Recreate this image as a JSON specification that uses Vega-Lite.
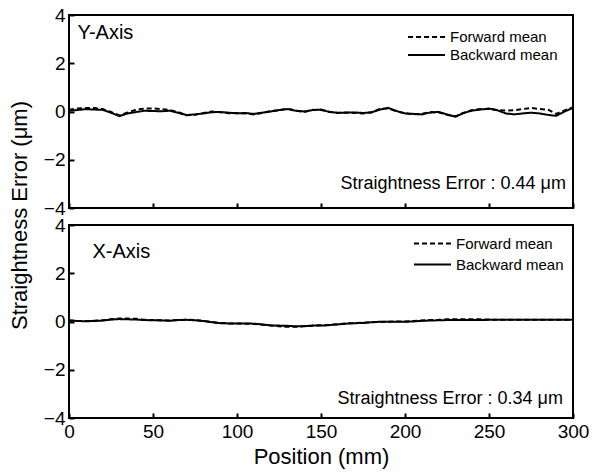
{
  "$schema": "https://vega.github.io/schema/vega-lite/v6.json",
  "background": "white",
  "padding": {"left": 7, "top": 5, "right": 5, "bottom": 5},
  "bounds": "flush",
  "spacing": 17,
  "config": {
    "font": "Liberation Sans",
    "view": {"stroke": "black", "strokeWidth": 2},
    "axis": {
      "grid": false,
      "domain": false,
      "tickColor": "black",
      "tickWidth": 2,
      "tickSize": -5,
      "labelPadding": 9,
      "labelFlush": false,
      "labelColor": "black",
      "labelFontSize": 19,
      "titleColor": "black",
      "titleFontWeight": "normal",
      "titleFontSize": 22
    },
    "legend": {
      "orient": "none",
      "padding": 0,
      "symbolType": "stroke",
      "symbolSize": 1369,
      "symbolStrokeWidth": 2,
      "symbolStrokeColor": "black",
      "labelFontSize": 15,
      "labelColor": "black",
      "labelOffset": 4,
      "rowPadding": 0
    }
  },
  "datasets": {
    "yaxis": [
      {"d":"Backward mean","p":0,"v":0.03},{"d":"Backward mean","p":5,"v":0.06},{"d":"Backward mean","p":10,"v":0.10},{"d":"Backward mean","p":15,"v":0.08},{"d":"Backward mean","p":20,"v":0.07},{"d":"Backward mean","p":25,"v":-0.05},{"d":"Backward mean","p":30,"v":-0.19},{"d":"Backward mean","p":35,"v":-0.08},{"d":"Backward mean","p":40,"v":-0.02},{"d":"Backward mean","p":45,"v":0.03},{"d":"Backward mean","p":50,"v":0.02},{"d":"Backward mean","p":55,"v":0.01},{"d":"Backward mean","p":60,"v":0.03},{"d":"Backward mean","p":65,"v":-0.05},{"d":"Backward mean","p":70,"v":-0.15},{"d":"Backward mean","p":75,"v":-0.12},{"d":"Backward mean","p":80,"v":-0.08},{"d":"Backward mean","p":85,"v":-0.03},{"d":"Backward mean","p":90,"v":-0.02},{"d":"Backward mean","p":95,"v":-0.05},{"d":"Backward mean","p":100,"v":-0.08},{"d":"Backward mean","p":105,"v":-0.06},{"d":"Backward mean","p":110,"v":-0.10},{"d":"Backward mean","p":115,"v":-0.05},{"d":"Backward mean","p":120,"v":0.00},{"d":"Backward mean","p":125,"v":0.06},{"d":"Backward mean","p":130,"v":0.10},{"d":"Backward mean","p":135,"v":0.03},{"d":"Backward mean","p":140,"v":0.00},{"d":"Backward mean","p":145,"v":0.06},{"d":"Backward mean","p":150,"v":0.08},{"d":"Backward mean","p":155,"v":-0.02},{"d":"Backward mean","p":160,"v":-0.05},{"d":"Backward mean","p":165,"v":-0.05},{"d":"Backward mean","p":170,"v":-0.04},{"d":"Backward mean","p":175,"v":-0.06},{"d":"Backward mean","p":180,"v":-0.04},{"d":"Backward mean","p":185,"v":0.08},{"d":"Backward mean","p":190,"v":0.15},{"d":"Backward mean","p":195,"v":0.02},{"d":"Backward mean","p":200,"v":-0.08},{"d":"Backward mean","p":205,"v":-0.10},{"d":"Backward mean","p":210,"v":-0.12},{"d":"Backward mean","p":215,"v":-0.04},{"d":"Backward mean","p":220,"v":-0.02},{"d":"Backward mean","p":225,"v":-0.12},{"d":"Backward mean","p":230,"v":-0.22},{"d":"Backward mean","p":235,"v":-0.06},{"d":"Backward mean","p":240,"v":0.04},{"d":"Backward mean","p":245,"v":0.08},{"d":"Backward mean","p":250,"v":0.12},{"d":"Backward mean","p":255,"v":0.05},{"d":"Backward mean","p":260,"v":-0.08},{"d":"Backward mean","p":265,"v":-0.12},{"d":"Backward mean","p":270,"v":-0.08},{"d":"Backward mean","p":275,"v":-0.05},{"d":"Backward mean","p":280,"v":-0.08},{"d":"Backward mean","p":285,"v":-0.14},{"d":"Backward mean","p":290,"v":-0.18},{"d":"Backward mean","p":295,"v":0.0},{"d":"Backward mean","p":300,"v":0.15},
      {"d":"Forward mean","p":0,"v":0.07},{"d":"Forward mean","p":5,"v":0.12},{"d":"Forward mean","p":10,"v":0.14},{"d":"Forward mean","p":15,"v":0.14},{"d":"Forward mean","p":20,"v":0.10},{"d":"Forward mean","p":25,"v":-0.02},{"d":"Forward mean","p":30,"v":-0.16},{"d":"Forward mean","p":35,"v":-0.04},{"d":"Forward mean","p":40,"v":0.08},{"d":"Forward mean","p":45,"v":0.12},{"d":"Forward mean","p":50,"v":0.13},{"d":"Forward mean","p":55,"v":0.10},{"d":"Forward mean","p":60,"v":0.06},{"d":"Forward mean","p":65,"v":-0.03},{"d":"Forward mean","p":70,"v":-0.16},{"d":"Forward mean","p":75,"v":-0.14},{"d":"Forward mean","p":80,"v":-0.06},{"d":"Forward mean","p":85,"v":0.0},{"d":"Forward mean","p":90,"v":-0.03},{"d":"Forward mean","p":95,"v":-0.07},{"d":"Forward mean","p":100,"v":-0.06},{"d":"Forward mean","p":105,"v":-0.08},{"d":"Forward mean","p":110,"v":-0.12},{"d":"Forward mean","p":115,"v":-0.06},{"d":"Forward mean","p":120,"v":0.02},{"d":"Forward mean","p":125,"v":0.05},{"d":"Forward mean","p":130,"v":0.12},{"d":"Forward mean","p":135,"v":0.04},{"d":"Forward mean","p":140,"v":-0.02},{"d":"Forward mean","p":145,"v":0.07},{"d":"Forward mean","p":150,"v":0.06},{"d":"Forward mean","p":155,"v":-0.01},{"d":"Forward mean","p":160,"v":-0.06},{"d":"Forward mean","p":165,"v":-0.04},{"d":"Forward mean","p":170,"v":-0.06},{"d":"Forward mean","p":175,"v":-0.08},{"d":"Forward mean","p":180,"v":-0.03},{"d":"Forward mean","p":185,"v":0.10},{"d":"Forward mean","p":190,"v":0.13},{"d":"Forward mean","p":195,"v":0.0},{"d":"Forward mean","p":200,"v":-0.07},{"d":"Forward mean","p":205,"v":-0.12},{"d":"Forward mean","p":210,"v":-0.10},{"d":"Forward mean","p":215,"v":-0.03},{"d":"Forward mean","p":220,"v":-0.03},{"d":"Forward mean","p":225,"v":-0.14},{"d":"Forward mean","p":230,"v":-0.20},{"d":"Forward mean","p":235,"v":-0.05},{"d":"Forward mean","p":240,"v":0.06},{"d":"Forward mean","p":245,"v":0.10},{"d":"Forward mean","p":250,"v":0.11},{"d":"Forward mean","p":255,"v":0.06},{"d":"Forward mean","p":260,"v":0.04},{"d":"Forward mean","p":265,"v":0.05},{"d":"Forward mean","p":270,"v":0.10},{"d":"Forward mean","p":275,"v":0.15},{"d":"Forward mean","p":280,"v":0.10},{"d":"Forward mean","p":285,"v":0.08},{"d":"Forward mean","p":290,"v":-0.10},{"d":"Forward mean","p":295,"v":0.04},{"d":"Forward mean","p":300,"v":0.18}
    ],
    "xaxis": [
      {"d":"Backward mean","p":0,"v":0.05},{"d":"Backward mean","p":5,"v":0.02},{"d":"Backward mean","p":10,"v":0.01},{"d":"Backward mean","p":15,"v":0.02},{"d":"Backward mean","p":20,"v":0.04},{"d":"Backward mean","p":25,"v":0.08},{"d":"Backward mean","p":30,"v":0.10},{"d":"Backward mean","p":35,"v":0.09},{"d":"Backward mean","p":40,"v":0.08},{"d":"Backward mean","p":45,"v":0.06},{"d":"Backward mean","p":50,"v":0.05},{"d":"Backward mean","p":55,"v":0.05},{"d":"Backward mean","p":60,"v":0.03},{"d":"Backward mean","p":65,"v":0.06},{"d":"Backward mean","p":70,"v":0.07},{"d":"Backward mean","p":75,"v":0.05},{"d":"Backward mean","p":80,"v":0.02},{"d":"Backward mean","p":85,"v":-0.03},{"d":"Backward mean","p":90,"v":-0.07},{"d":"Backward mean","p":95,"v":-0.08},{"d":"Backward mean","p":100,"v":-0.08},{"d":"Backward mean","p":105,"v":-0.08},{"d":"Backward mean","p":110,"v":-0.09},{"d":"Backward mean","p":115,"v":-0.12},{"d":"Backward mean","p":120,"v":-0.16},{"d":"Backward mean","p":125,"v":-0.17},{"d":"Backward mean","p":130,"v":-0.18},{"d":"Backward mean","p":135,"v":-0.20},{"d":"Backward mean","p":140,"v":-0.19},{"d":"Backward mean","p":145,"v":-0.17},{"d":"Backward mean","p":150,"v":-0.17},{"d":"Backward mean","p":155,"v":-0.15},{"d":"Backward mean","p":160,"v":-0.12},{"d":"Backward mean","p":165,"v":-0.09},{"d":"Backward mean","p":170,"v":-0.07},{"d":"Backward mean","p":175,"v":-0.06},{"d":"Backward mean","p":180,"v":-0.03},{"d":"Backward mean","p":185,"v":-0.01},{"d":"Backward mean","p":190,"v":-0.01},{"d":"Backward mean","p":195,"v":-0.01},{"d":"Backward mean","p":200,"v":-0.01},{"d":"Backward mean","p":205,"v":0.0},{"d":"Backward mean","p":210,"v":0.03},{"d":"Backward mean","p":215,"v":0.04},{"d":"Backward mean","p":220,"v":0.05},{"d":"Backward mean","p":225,"v":0.06},{"d":"Backward mean","p":230,"v":0.06},{"d":"Backward mean","p":235,"v":0.06},{"d":"Backward mean","p":240,"v":0.06},{"d":"Backward mean","p":245,"v":0.06},{"d":"Backward mean","p":250,"v":0.07},{"d":"Backward mean","p":255,"v":0.07},{"d":"Backward mean","p":260,"v":0.07},{"d":"Backward mean","p":265,"v":0.07},{"d":"Backward mean","p":270,"v":0.07},{"d":"Backward mean","p":275,"v":0.07},{"d":"Backward mean","p":280,"v":0.07},{"d":"Backward mean","p":285,"v":0.07},{"d":"Backward mean","p":290,"v":0.07},{"d":"Backward mean","p":295,"v":0.07},{"d":"Backward mean","p":300,"v":0.07},
      {"d":"Forward mean","p":0,"v":0.04},{"d":"Forward mean","p":5,"v":0.02},{"d":"Forward mean","p":10,"v":0.02},{"d":"Forward mean","p":15,"v":0.03},{"d":"Forward mean","p":20,"v":0.05},{"d":"Forward mean","p":25,"v":0.09},{"d":"Forward mean","p":30,"v":0.12},{"d":"Forward mean","p":35,"v":0.12},{"d":"Forward mean","p":40,"v":0.11},{"d":"Forward mean","p":45,"v":0.07},{"d":"Forward mean","p":50,"v":0.06},{"d":"Forward mean","p":55,"v":0.04},{"d":"Forward mean","p":60,"v":0.04},{"d":"Forward mean","p":65,"v":0.06},{"d":"Forward mean","p":70,"v":0.07},{"d":"Forward mean","p":75,"v":0.06},{"d":"Forward mean","p":80,"v":0.03},{"d":"Forward mean","p":85,"v":-0.02},{"d":"Forward mean","p":90,"v":-0.06},{"d":"Forward mean","p":95,"v":-0.08},{"d":"Forward mean","p":100,"v":-0.08},{"d":"Forward mean","p":105,"v":-0.09},{"d":"Forward mean","p":110,"v":-0.10},{"d":"Forward mean","p":115,"v":-0.13},{"d":"Forward mean","p":120,"v":-0.17},{"d":"Forward mean","p":125,"v":-0.20},{"d":"Forward mean","p":130,"v":-0.22},{"d":"Forward mean","p":135,"v":-0.22},{"d":"Forward mean","p":140,"v":-0.20},{"d":"Forward mean","p":145,"v":-0.18},{"d":"Forward mean","p":150,"v":-0.16},{"d":"Forward mean","p":155,"v":-0.14},{"d":"Forward mean","p":160,"v":-0.11},{"d":"Forward mean","p":165,"v":-0.08},{"d":"Forward mean","p":170,"v":-0.07},{"d":"Forward mean","p":175,"v":-0.05},{"d":"Forward mean","p":180,"v":-0.03},{"d":"Forward mean","p":185,"v":-0.02},{"d":"Forward mean","p":190,"v":-0.01},{"d":"Forward mean","p":195,"v":0.0},{"d":"Forward mean","p":200,"v":0.0},{"d":"Forward mean","p":205,"v":0.02},{"d":"Forward mean","p":210,"v":0.04},{"d":"Forward mean","p":215,"v":0.06},{"d":"Forward mean","p":220,"v":0.07},{"d":"Forward mean","p":225,"v":0.09},{"d":"Forward mean","p":230,"v":0.09},{"d":"Forward mean","p":235,"v":0.09},{"d":"Forward mean","p":240,"v":0.09},{"d":"Forward mean","p":245,"v":0.09},{"d":"Forward mean","p":250,"v":0.08},{"d":"Forward mean","p":255,"v":0.07},{"d":"Forward mean","p":260,"v":0.07},{"d":"Forward mean","p":265,"v":0.07},{"d":"Forward mean","p":270,"v":0.07},{"d":"Forward mean","p":275,"v":0.07},{"d":"Forward mean","p":280,"v":0.07},{"d":"Forward mean","p":285,"v":0.07},{"d":"Forward mean","p":290,"v":0.07},{"d":"Forward mean","p":295,"v":0.07},{"d":"Forward mean","p":300,"v":0.07}
    ]
  },
  "resolve": {"scale": {"strokeDash": "independent"}, "legend": {"strokeDash": "independent"}},
  "vconcat": [
    {
      "width": 504,
      "height": 193,
      "layer": [
        {
          "data": {"name": "yaxis"},
          "mark": {"type": "line", "color": "black", "strokeWidth": 2},
          "encoding": {
            "x": {"field": "p", "type": "quantitative", "scale": {"domain": [0, 300], "nice": false},
                  "axis": {"values": [0, 50, 100, 150, 200, 250, 300], "labels": false, "title": null}},
            "y": {"field": "v", "type": "quantitative", "scale": {"domain": [-4, 4], "nice": false},
                  "axis": {"values": [-4, -2, 0, 2, 4], "title": null}},
            "strokeDash": {"field": "d", "type": "nominal",
                  "scale": {"domain": ["Forward mean", "Backward mean"], "range": [[5, 3], [1, 0]]},
                  "legend": {"title": null, "legendX": 338, "legendY": 13, "clipHeight": 18}}
          }
        },
        {
          "data": {"values": [{}]},
          "mark": {"type": "text", "align": "left", "baseline": "middle", "fontSize": 20, "color": "black", "text": "Y-Axis"},
          "encoding": {"x": {"datum": 5}, "y": {"datum": 3.25}}
        },
        {
          "data": {"values": [{}]},
          "mark": {"type": "text", "align": "right", "baseline": "middle", "fontSize": 18, "color": "black", "text": "Straightness Error : 0.44 μm"},
          "encoding": {"x": {"datum": 295.8}, "y": {"datum": -3.0}}
        }
      ]
    },
    {
      "width": 504,
      "height": 193,
      "layer": [
        {
          "data": {"name": "xaxis"},
          "mark": {"type": "line", "color": "black", "strokeWidth": 2},
          "encoding": {
            "x": {"field": "p", "type": "quantitative", "scale": {"domain": [0, 300], "nice": false},
                  "axis": {"values": [0, 50, 100, 150, 200, 250, 300], "title": "Position (mm)", "titlePadding": 5}},
            "y": {"field": "v", "type": "quantitative", "scale": {"domain": [-4, 4], "nice": false},
                  "axis": {"values": [-4, -2, 0, 2, 4], "title": "Straightness Error (μm)", "titleY": -10, "titlePadding": 12}},
            "strokeDash": {"field": "d", "type": "nominal",
                  "scale": {"domain": ["Forward mean", "Backward mean"], "range": [[5, 3], [1, 0]]},
                  "legend": {"title": null, "legendX": 344, "legendY": 8, "clipHeight": 21}}
          }
        },
        {
          "data": {"values": [{}]},
          "mark": {"type": "text", "align": "left", "baseline": "middle", "fontSize": 20, "color": "black", "text": "X-Axis"},
          "encoding": {"x": {"datum": 14}, "y": {"datum": 2.9}}
        },
        {
          "data": {"values": [{}]},
          "mark": {"type": "text", "align": "right", "baseline": "middle", "fontSize": 18, "color": "black", "text": "Straightness Error : 0.34 μm"},
          "encoding": {"x": {"datum": 294}, "y": {"datum": -3.2}}
        }
      ]
    }
  ]
}
